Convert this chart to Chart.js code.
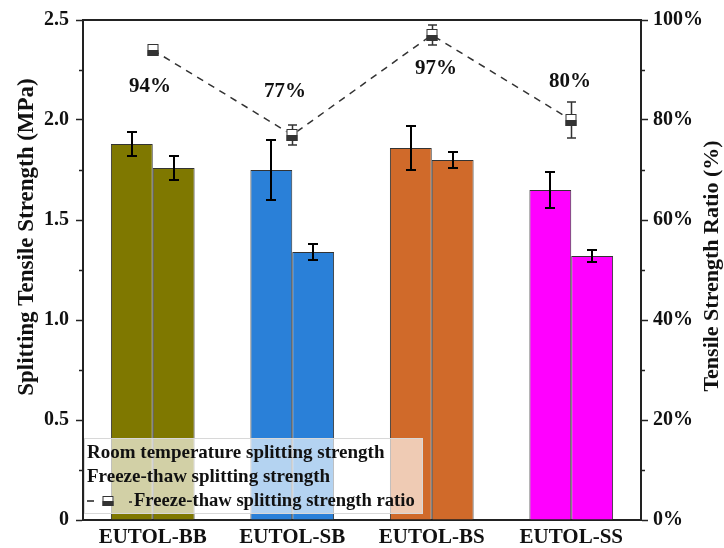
<!DOCTYPE html>
<html>
<head>
<meta charset="utf-8">
<script src="https://cdn.jsdelivr.net/npm/chart.js@4/dist/chart.umd.min.js"></script>
<style>
  html, body { margin: 0; padding: 0; background: #fff; }
  #wrap { width: 724px; height: 548px; }
</style>
</head>
<body>
<div id="wrap"><canvas id="chart" width="724" height="548"></canvas></div>
<script>
// Mixtures tested
const categories = ['EUTOL-BB', 'EUTOL-SB', 'EUTOL-BS', 'EUTOL-SS'];

// Splitting tensile strength (MPa) and standard deviations
const roomStrength = [1.88, 1.75, 1.86, 1.65];
const roomError = [0.06, 0.15, 0.11, 0.09];
const freezeStrength = [1.76, 1.34, 1.80, 1.32];
const freezeError = [0.06, 0.04, 0.04, 0.03];

// Freeze-thaw splitting strength ratio (%)
const strengthRatio = [94, 77, 97, 80];
const ratioError = [0.5, 2, 2, 3.6];

// Axis ticks
const leftTicks = [0, 0.5, 1.0, 1.5, 2.0, 2.5];
const rightTicks = [0, 20, 40, 60, 80, 100];

// Fill colour per mixture
const mixColors = ['#7f7800', '#2a80d8', '#d06a2a', '#ff00ff'];

const FONT = '"Liberation Serif", "Times New Roman", serif';
const INK = '#222';

// where each ratio label sits relative to its marker (px)
const ratioLabelShift = [[-3, 37], [-7, -43], [4, 34], [-1, -38]];

function drawRatioMarker(ctx, x, y, w, h) {
  ctx.save();
  ctx.lineWidth = 1;
  ctx.strokeStyle = '#333';
  ctx.fillStyle = '#fff';
  ctx.fillRect(x - w / 2, y - h / 2, w, h / 2);
  ctx.fillStyle = '#333';
  ctx.fillRect(x - w / 2, y, w, h / 2);
  ctx.strokeRect(x - w / 2 + 0.5, y - h / 2 + 0.5, w - 1, h - 1);
  ctx.restore();
}

const overlayPlugin = {
  id: 'overlay',
  afterDatasetsDraw(chart) {
    const ctx = chart.ctx;
    const area = chart.chartArea;
    const yL = chart.scales.y;
    const yR = chart.scales.y2;

    // error bars on the strength bars
    const groups = [[0, roomStrength, roomError], [1, freezeStrength, freezeError]];
    ctx.save();
    ctx.strokeStyle = '#000';
    ctx.lineWidth = 2;
    groups.forEach(([di, vals, errs]) => {
      const meta = chart.getDatasetMeta(di);
      meta.data.forEach((bar, j) => {
        const x = Math.round(bar.x);
        const yt = yL.getPixelForValue(vals[j] + errs[j]);
        const yb = yL.getPixelForValue(vals[j] - errs[j]);
        ctx.beginPath();
        ctx.moveTo(x, yt); ctx.lineTo(x, yb);
        ctx.moveTo(x - 5, yt); ctx.lineTo(x + 5, yt);
        ctx.moveTo(x - 5, yb); ctx.lineTo(x + 5, yb);
        ctx.stroke();
      });
    });
    ctx.restore();

    // ratio markers with whiskers
    const rmeta = chart.getDatasetMeta(2);
    ctx.save();
    rmeta.data.forEach((pt, j) => {
      const x = Math.round(pt.x);
      const y = pt.y;
      const yt = yR.getPixelForValue(strengthRatio[j] + ratioError[j]);
      const yb = yR.getPixelForValue(strengthRatio[j] - ratioError[j]);
      ctx.strokeStyle = '#333';
      ctx.lineWidth = 1.5;
      ctx.beginPath();
      ctx.moveTo(x + 0.5, Math.min(yt, y - 6)); ctx.lineTo(x + 0.5, Math.max(yb, y + 6));
      if (yt < y - 6) { ctx.moveTo(x - 4, yt); ctx.lineTo(x + 5, yt); }
      if (yb > y + 6) { ctx.moveTo(x - 4, yb); ctx.lineTo(x + 5, yb); }
      ctx.stroke();
      drawRatioMarker(ctx, x, y, 11, 12);

      // percentage label
      ctx.fillStyle = '#111';
      ctx.font = 'bold 21px ' + FONT;
      ctx.textAlign = 'center';
      ctx.textBaseline = 'middle';
      const s = ratioLabelShift[j];
      ctx.fillText(strengthRatio[j] + '%', x + s[0], y + s[1]);
    });
    ctx.restore();

    // legend box inside the plot
    const lx = area.left + 1, ly = 438, lw = 339, lh = 76;
    ctx.save();
    ctx.fillStyle = 'rgba(255,255,255,0.65)';
    ctx.fillRect(lx, ly, lw, lh);
    ctx.strokeStyle = '#d8d8d8';
    ctx.lineWidth = 1;
    ctx.strokeRect(lx + 0.5, ly + 0.5, lw - 1, lh - 1);
    ctx.fillStyle = '#111';
    ctx.font = 'bold 19px ' + FONT;
    ctx.textAlign = 'left';
    ctx.textBaseline = 'middle';
    ctx.fillText(chart.data.datasets[0].label, 87, 453);
    ctx.fillText(chart.data.datasets[1].label, 87, 477);
    ctx.strokeStyle = '#222';
    ctx.lineWidth = 1.5;
    ctx.beginPath();
    ctx.moveTo(87, 501); ctx.lineTo(94, 501);
    ctx.moveTo(129, 502); ctx.lineTo(132, 502);
    ctx.stroke();
    drawRatioMarker(ctx, 108, 501, 11, 10);
    ctx.font = 'bold 18.6px ' + FONT;
    ctx.fillText(chart.data.datasets[2].label, 134, 501);
    ctx.restore();
  },
  afterDraw(chart) {
    const ctx = chart.ctx;
    const area = chart.chartArea;
    ctx.save();
    // top frame line
    ctx.strokeStyle = INK;
    ctx.lineWidth = 2;
    ctx.beginPath();
    ctx.moveTo(area.left - 1, area.top); ctx.lineTo(area.right + 1, area.top);
    ctx.stroke();

    // minor ticks
    ctx.lineWidth = 1.5;
    const yL = chart.scales.y, yR = chart.scales.y2;
    ctx.beginPath();
    for (let v = 0.25; v < 2.5; v += 0.5) {
      const p = Math.round(yL.getPixelForValue(v)) + 0.5;
      ctx.moveTo(area.left - 4, p); ctx.lineTo(area.left, p);
    }
    for (let v = 10; v < 100; v += 20) {
      const p = Math.round(yR.getPixelForValue(v)) + 0.5;
      ctx.moveTo(area.right, p); ctx.lineTo(area.right + 4, p);
    }
    ctx.stroke();

    // axis titles
    ctx.fillStyle = '#111';
    ctx.textAlign = 'center';
    ctx.textBaseline = 'middle';
    ctx.save();
    ctx.font = 'bold 23px ' + FONT;
    ctx.translate(27, 237);
    ctx.rotate(-Math.PI / 2);
    ctx.fillText('Splitting Tensile Strength (MPa)', 0, 0);
    ctx.restore();
    ctx.save();
    ctx.font = 'bold 22px ' + FONT;
    ctx.translate(712, 266);
    ctx.rotate(-Math.PI / 2);
    ctx.fillText('Tensile Strength Ratio (%)', 0, 0);
    ctx.restore();
    ctx.restore();
  }
};

new Chart(document.getElementById('chart'), {
  data: {
    labels: categories,
    datasets: [
      {
        type: 'bar',
        label: 'Room temperature splitting strength',
        data: roomStrength,
        yAxisID: 'y',
        backgroundColor: mixColors,
        borderColor: '#333',
        borderWidth: 1,
        categoryPercentage: 0.6,
        barPercentage: 1.0,
        order: 2
      },
      {
        type: 'bar',
        label: 'Freeze-thaw splitting strength',
        data: freezeStrength,
        yAxisID: 'y',
        backgroundColor: mixColors,
        borderColor: '#333',
        borderWidth: 1,
        categoryPercentage: 0.6,
        barPercentage: 1.0,
        order: 2
      },
      {
        type: 'line',
        label: 'Freeze-thaw splitting strength ratio',
        data: strengthRatio,
        yAxisID: 'y2',
        borderColor: '#333',
        borderWidth: 1.5,
        borderDash: [7, 6],
        pointRadius: 0,
        fill: false,
        tension: 0,
        order: 1
      }
    ]
  },
  options: {
    responsive: false,
    animation: false,
    devicePixelRatio: 1,
    layout: { padding: { top: 20, left: 0, right: 0, bottom: 0 } },
    plugins: {
      legend: { display: false },
      tooltip: { enabled: false }
    },
    scales: {
      x: {
        type: 'category',
        offset: true,
        grid: { display: false, drawTicks: false },
        border: { display: true, color: INK, width: 2 },
        ticks: { color: '#111', font: { family: FONT, size: 21, weight: 'bold' }, padding: 5, maxRotation: 0 },
        afterFit(s) { s.height = 28; }
      },
      y: {
        position: 'left',
        min: 0, max: 2.5,
        afterBuildTicks(s) { s.ticks = leftTicks.map(v => ({ value: v })); },
        grid: { display: true, drawOnChartArea: false, drawTicks: true, tickLength: 7, tickWidth: 1.5, tickColor: INK },
        border: { display: true, color: INK, width: 2 },
        ticks: {
          color: '#111',
          font: { family: FONT, size: 20, weight: 'bold' },
          padding: 7,
          callback: v => v === 0 ? '0' : Number(v).toFixed(1)
        },
        afterFit(s) { s.width = 83; }
      },
      y2: {
        position: 'right',
        min: 0, max: 100,
        afterBuildTicks(s) { s.ticks = rightTicks.map(v => ({ value: v })); },
        grid: { display: true, drawOnChartArea: false, drawTicks: true, tickLength: 7, tickWidth: 1.5, tickColor: INK },
        border: { display: true, color: INK, width: 2 },
        ticks: {
          color: '#111',
          font: { family: FONT, size: 20, weight: 'bold' },
          padding: 5,
          callback: v => v + '%'
        },
        afterFit(s) { s.width = 83; }
      }
    }
  },
  plugins: [overlayPlugin]
});
</script>
</body>
</html>
